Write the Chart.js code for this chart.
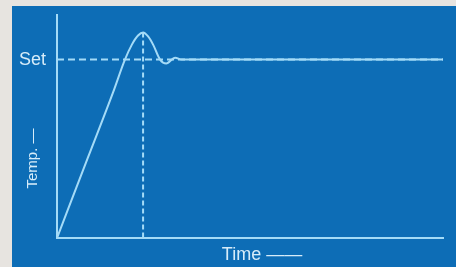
<!DOCTYPE html>
<html lang="en">
<head>
<meta charset="UTF-8">
<title>Temperature response</title>
<script src="https://cdn.jsdelivr.net/npm/chart.js"></script>
<style>
    html, body { margin: 0; padding: 0; }
    body { width: 456px; height: 267px; background: #e7e4e0; position: relative; overflow: hidden; }
    #chart { position: absolute; left: 12px; top: 6px; background: #0d6db6; }
</style>
</head>
<body>

<canvas id="chart" width="444" height="261"></canvas>

<script>
// response curve (time in %, temperature relative to set point)
const timeValues = [0, 8, 14.5, 17.6, 19.4, 21, 22.3, 23.6, 24.9, 26.7, 28.3, 30.6, 32.3, 100];
const tempValues = [0, 0.45, 0.815, 1.0, 1.084, 1.135, 1.152, 1.13, 1.084, 1.0, 0.978, 1.011, 1.0, 1.0];
const setPoint = 1;
const peakTime = 22.3;
const peakTemp = 1.152;
const setLabel = "Set";
const xLabel = "Time ——";
const yLabel = "Temp. —";

const lineColor = "#a4dbf7";
const textColor = "#d6ecf9";
const font = "Liberation Sans, Arial, sans-serif";

const curve = timeValues.map((t, i) => ({x: t, y: tempValues[i]}));

// axis captions
const captions = {
    id: "captions",
    afterDraw(chart) {
        const {ctx, chartArea} = chart;
        const cx = (chartArea.left + chartArea.right) / 2;
        const cy = (chartArea.top + chartArea.bottom) / 2;
        ctx.save();
        ctx.fillStyle = textColor;
        ctx.textAlign = "center";
        ctx.textBaseline = "middle";
        ctx.font = "18px " + font;
        ctx.fillText(xLabel, cx + 12, chartArea.bottom + 17);
        ctx.translate(chartArea.left - 24, cy + 32);
        ctx.rotate(-Math.PI / 2);
        ctx.font = "15px " + font;
        ctx.fillText(yLabel, 0, 0);
        ctx.restore();
    }
};

new Chart(document.getElementById("chart"), {
    type: "line",
    data: {
        datasets: [
            {
                data: [{x: 0, y: setPoint}, {x: 100, y: setPoint}],
                borderColor: lineColor,
                borderWidth: 2,
                borderDash: [7, 4],
                pointRadius: 0
            },
            {
                data: [{x: peakTime, y: peakTemp}, {x: peakTime, y: 0}],
                borderColor: lineColor,
                borderWidth: 2,
                borderDash: [5, 3],
                pointRadius: 0
            },
            {
                data: curve,
                borderColor: lineColor,
                borderWidth: 2,
                cubicInterpolationMode: "monotone",
                pointRadius: 0
            }
        ]
    },
    options: {
        responsive: false,
        animation: false,
        events: [],
        layout: { padding: { top: 9, right: 13, left: 0, bottom: 0 } },
        plugins: { legend: { display: false }, tooltip: { enabled: false } },
        scales: {
            x: {
                type: "linear",
                min: 0,
                max: 100,
                grid: { display: false },
                ticks: { display: false },
                border: { display: true, color: lineColor, width: 2 },
                afterFit(s) { s.height = 29; s.paddingLeft = 0; s.paddingRight = 0; }
            },
            y: {
                min: 0,
                max: 1.25,
                grid: { display: false, drawTicks: false },
                border: { display: true, color: lineColor, width: 2 },
                afterBuildTicks(s) { s.ticks = [{value: setPoint}]; },
                ticks: {
                    padding: 11,
                    color: textColor,
                    font: { size: 18, family: font },
                    callback: () => setLabel
                },
                afterFit(s) { s.width = 45; s.paddingTop = 0; s.paddingBottom = 0; }
            }
        }
    },
    plugins: [captions]
});
</script>

</body>
</html>
